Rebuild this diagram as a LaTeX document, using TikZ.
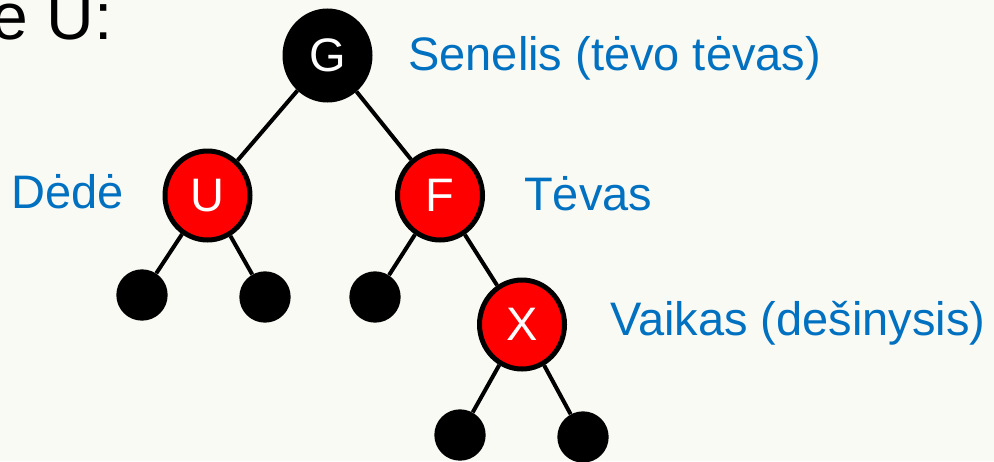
\documentclass[tikz,border=0pt]{standalone}
\usepackage{fontspec}
\setmainfont{Liberation Sans}
\usetikzlibrary{shapes.geometric}
\definecolor{paper}{RGB}{250,250,244}
\definecolor{lblue}{HTML}{0070C0}
\definecolor{rbred}{HTML}{FF0000}

\begin{document}
\begin{tikzpicture}[x=0.75pt, y=-0.75pt,
  big/.style={ellipse, draw=black, line width=3.75pt, minimum width=63.75pt,
    minimum height=66.75pt, inner sep=0pt, text=white,
    font=\fontsize{35.25}{36}\selectfont},
  rednode/.style={big, fill=rbred},
  blacknode/.style={big, fill=black},
  leaf/.style={circle, fill=black, minimum size=38.5pt, inner sep=0pt},
  lbl/.style={text=lblue, anchor=base west, inner sep=0pt,
    font=\fontsize{35.25}{36}\selectfont},
  link/.style={line width=3pt}]
% Background
\fill[paper] (0,0) rectangle (994,461);
\useasboundingbox (0,0) rectangle (994,461);
\node[anchor=base east, inner sep=0pt, font=\fontsize{49.5}{50}\selectfont] (title) at (113,39) {e U:};

% Tree nodes
\node[blacknode] (g) at (327.5,55.5) {G};
\node[rednode] (u) at (207.5,195.5) {U};
\node[rednode] (f) at (440,195.5) {F};
\node[rednode] (x) at (522,324.5) {X};

% Leaves
\node[leaf] (ul) at (142,295) {};
\node[leaf] (ur) at (265,297) {};
\node[leaf] (fl) at (375,297) {};
\node[leaf] (xl) at (460,435) {};
\node[leaf] (xr) at (583,437) {};

% Labels
\node[lbl] (senelis) at (408,70) {Senelis (tėvo tėvas)};
\node[lbl] (dede) at (11,208) {Dėdė};
\node[lbl] (tevas) at (524,210) {Tėvas};
\node[lbl] (vaikas) at (610,335) {Vaikas (dešinysis)};

% Edges
\draw[link] (g) -- (u);
\draw[link] (g) -- (f);
\draw[link] (u) -- (ul);
\draw[link] (u) -- (ur);
\draw[link] (f) -- (fl);
\draw[link] (f) -- (x);
\draw[link] (x) -- (xl);
\draw[link] (x) -- (xr);
\end{tikzpicture}
\end{document}
